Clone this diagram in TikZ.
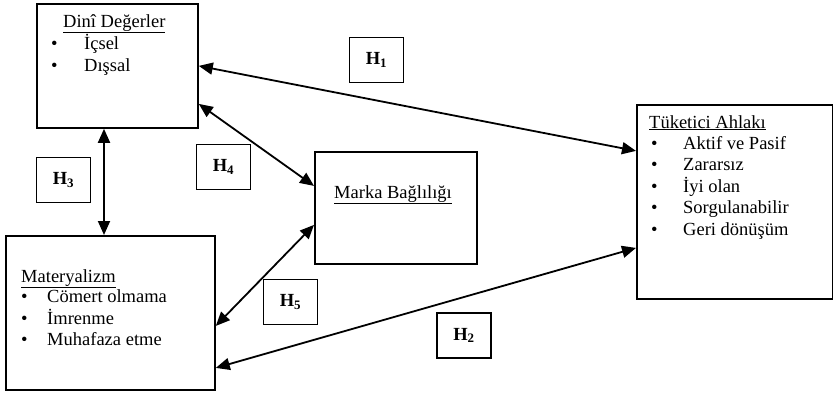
\documentclass[tikz,border=0pt]{standalone}
\usepackage{fontspec}
\setmainfont{Liberation Serif}
\usetikzlibrary{arrows.meta}
\usetikzlibrary{positioning}

\tikzset{
  kutu/.style={draw, line width=1.8pt, anchor=north west, inner sep=0pt},
  hkutu/.style={draw, line width=1.8pt, minimum width=54pt, minimum height=45pt, inner sep=0pt,
    font=\fontsize{18.5}{22}\selectfont\bfseries},
  yazi/.style={anchor=base west, inner sep=0pt, font=\fontsize{18.5}{22}\selectfont},
  ciftok/.style={line width=1.8pt, {Triangle[length=14pt,width=12pt]}-{Triangle[length=14pt,width=12pt]}}
}

\begin{document}
\begin{tikzpicture}[x=1pt, y=-1pt]
    \useasboundingbox (0,0) rectangle (833,394);

    % kutular
    \node[kutu, minimum width=161pt, minimum height=124pt] (dini) at (36,3) {};
    \node[kutu, minimum width=209pt, minimum height=154pt] (mat) at (5,235) {};
    \node[kutu, minimum width=162pt, minimum height=112pt] (marka) at (314,151) {};
    \node[kutu, minimum width=195.5pt, minimum height=194pt] (tuk) at (636,104) {};

    % basliklar
    \node[yazi] (dini-t) at (63,27) {\underline{Dinî Değerler}};
    \node[yazi] (mat-t) at (21,282) {\underline{Materyalizm}};
    \node[yazi] (marka-t) at (334,198) {\underline{Marka Bağlılığı}};
    \node[yazi] (tuk-t) at (649,128) {\underline{Tüketici Ahlakı}};

    % maddeler
    \foreach \t [count=\i] in {İçsel, Dışsal} {
      \node[yazi] (dini-b\i) at (51,{27+22*\i}) {\textbullet};
      \node[yazi] (dini-m\i) at (84,{27+22*\i}) {\t};
    }
    \foreach \t [count=\i] in {Cömert olmama, İmrenme, Muhafaza etme} {
      \node[yazi] (mat-b\i) at (21,{281+21.6*\i}) {\textbullet};
      \node[yazi] (mat-m\i) at (47,{281+21.6*\i}) {\t};
    }
    \foreach \t [count=\i] in {Aktif ve Pasif, Zararsız, İyi olan, Sorgulanabilir, Geri dönüşüm} {
      \node[yazi] (tuk-b\i) at (651,{127.5+21.6*\i}) {\textbullet};
      \node[yazi] (tuk-m\i) at (683,{127.5+21.6*\i}) {\t};
    }

    % hipotezler
    \node[hkutu] (h1) at (376.5,60) {H\textsubscript{1}};
    \node[hkutu] (h2) at (464,335.5) {H\textsubscript{2}};
    \node[hkutu] (h3) at (63.5,180) {H\textsubscript{3}};
    \node[hkutu] (h4) at (223.5,167) {H\textsubscript{4}};
    \node[hkutu] (h5) at (290.5,302) {H\textsubscript{5}};

    % oklar
    \coordinate (h3x) at (104,0);
    \draw[ciftok] (dini.east) -- ([yshift=51pt]tuk.west);
    \draw[ciftok] ([yshift=-38pt]dini.east) -- ([yshift=22pt]marka.west);
    \draw[ciftok] (dini.south -| h3x) -- (mat.north -| h3x);
    \draw[ciftok] ([yshift=-13pt]mat.east) -- ([yshift=-17pt]marka.west);
    \draw[ciftok] ([yshift=-55pt]mat.east) -- ([yshift=-46pt]tuk.west);
\end{tikzpicture}
\end{document}
